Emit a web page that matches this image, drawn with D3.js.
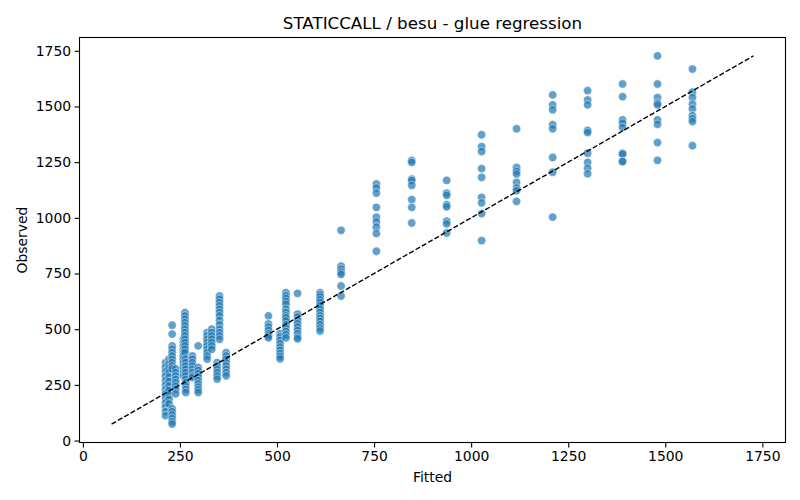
<!DOCTYPE html>
<html>
<head>
<meta charset="utf-8">
<script src="https://cdn.jsdelivr.net/npm/d3@7"></script>
<style>
  body { margin: 0; background: #fff; }
  svg { font-family: "DejaVu Sans", sans-serif; }
</style>
</head>
<body>
<svg id="chart" width="800" height="500"></svg>
<script>
// fitted value of each column of points
const fittedLevels = [213, 222, 230, 239, 259, 263, 265, 282, 297, 320, 332, 346, 352, 369,
    478, 508, 523, 553, 611, 665, 756, 847, 937, 1027, 1117, 1210, 1300, 1390, 1480, 1570];

// observed values, one list per fitted level (same order)
const observedSets = [
    [350, 330, 310, 290, 270, 250, 230, 210, 190, 170, 150, 130, 112],
    [366, 345, 325, 305, 285, 265, 245, 225, 205, 185, 165],
    [518, 478, 425, 410, 395, 380, 365, 350, 335, 322, 143, 130, 115, 100, 85, 74],
    [322, 305, 290, 275, 260, 245, 230, 210],
    [456, 440, 425, 410, 395, 380, 365, 350, 335, 320, 305, 291],
    [574, 560, 545, 530, 515, 500, 485, 470, 455, 440, 425, 410, 395],
    [367, 350, 335, 320, 305, 290, 275, 260, 245, 230, 216],
    [380, 365, 350, 335, 320, 305, 290, 283],
    [425, 328, 315, 300, 285, 270, 255, 240, 228, 216],
    [485, 470, 455, 440, 425, 410, 395, 380, 366],
    [500, 485, 470, 455, 440, 425, 410],
    [350, 335, 320, 305, 290, 276],
    [649, 635, 620, 605, 590, 575, 560, 540, 520, 500, 485, 470, 455],
    [395, 380, 365, 350, 335, 320, 305, 291],
    [560, 524, 510, 495, 480, 470, 461],
    [480, 465, 450, 435, 420, 405, 390, 378, 367],
    [664, 650, 638, 625, 612, 590, 575, 560, 551, 537, 520, 505, 490, 475, 461],
    [661, 568, 555, 540, 525, 510, 495, 480, 465, 457],
    [664, 655, 645, 632, 620, 605, 590, 575, 560, 548, 535, 520, 505, 492],
    [944, 783, 770, 756, 746, 694, 649],
    [1152, 1134, 1111, 1047, 1003, 982, 958, 930, 850],
    [1258, 1249, 1174, 1167, 1146, 1082, 1047, 977],
    [1168, 1111, 1101, 1059, 1049, 985, 973, 932],
    [1373, 1320, 1298, 1221, 1182, 1092, 1067, 1019, 898],
    [1400, 1226, 1209, 1197, 1159, 1134, 1122, 1074],
    [1552, 1507, 1485, 1418, 1400, 1271, 1205, 1003],
    [1571, 1529, 1507, 1392, 1383, 1290, 1249, 1223, 1198],
    [1601, 1544, 1440, 1425, 1406, 1290, 1286, 1253, 1253],
    [1727, 1601, 1540, 1515, 1507, 1440, 1420, 1338, 1258],
    [1668, 1564, 1540, 1510, 1489, 1459, 1445, 1432, 1324]
];

const xTicks = [0, 250, 500, 750, 1000, 1250, 1500, 1750];
const yTicks = [0, 250, 500, 750, 1000, 1250, 1500, 1750];

const titleText = "STATICCALL / besu - glue regression";

function chart(element) {
    const svg = d3.select(element);
    const left = 79.5, right = 785.5, top = 37.5, bottom = 442.5;

    // flatten the columns into points
    let points = [];
    fittedLevels.forEach(function(f, i) {
        observedSets[i].forEach(function(o) {
            points.push({ fitted: f, observed: o });
        });
    });

    // the y = x reference line goes from the smallest to the largest value
    const lo = d3.min([d3.min(fittedLevels), d3.min(points, d => d.observed)]);
    const hi = d3.max([d3.max(fittedLevels), d3.max(points, d => d.observed)]);
    const pad = (hi - lo) * 0.05;

    const x = d3.scaleLinear().domain([lo - pad, hi + pad]).range([left, right]);
    const y = d3.scaleLinear().domain([lo - pad, hi + pad]).range([bottom, top]);

    // axes
    const xAxis = svg.append('g')
        .attr('transform', `translate(0,${bottom})`)
        .call(d3.axisBottom(x).tickValues(xTicks).tickFormat(d3.format('d')).tickSize(4.9).tickPadding(3.5));
    const yAxis = svg.append('g')
        .attr('transform', `translate(${left},0)`)
        .call(d3.axisLeft(y).tickValues(yTicks).tickFormat(d3.format('d')).tickSize(4.9).tickPadding(3.5));

    [xAxis, yAxis].forEach(function(a) {
        a.select('.domain').remove();
        a.selectAll('line').attr('stroke', '#000').attr('stroke-width', 1.1);
        a.selectAll('text')
            .attr('fill', '#000')
            .style('font-family', '"DejaVu Sans", sans-serif')
            .style('font-size', '13.9px');
    });

    // scatter
    svg.append('g')
        .selectAll('circle')
        .data(points)
        .join('circle')
        .attr('cx', d => x(d.fitted))
        .attr('cy', d => y(d.observed))
        .attr('r', 4.17)
        .attr('fill', '#1f77b4')
        .attr('fill-opacity', 0.7)
        .attr('stroke', '#fff')
        .attr('stroke-opacity', 0.7)
        .attr('stroke-width', 0.67);

    // dashed y = x line
    svg.append('line')
        .attr('x1', x(lo)).attr('y1', y(lo))
        .attr('x2', x(hi)).attr('y2', y(hi))
        .attr('stroke', '#000')
        .attr('stroke-width', 1.39)
        .attr('stroke-dasharray', '5.1,2.2');

    // frame
    svg.append('rect')
        .attr('x', left).attr('y', top)
        .attr('width', right - left).attr('height', bottom - top)
        .attr('fill', 'none')
        .attr('stroke', '#000')
        .attr('stroke-width', 1.1);

    // texts
    svg.append('text')
        .attr('x', (left + right) / 2).attr('y', 29)
        .attr('text-anchor', 'middle')
        .style('font-size', '16.7px')
        .text(titleText);

    svg.append('text')
        .attr('x', (left + right) / 2).attr('y', 482)
        .attr('text-anchor', 'middle')
        .style('font-size', '13.9px')
        .text('Fitted');

    svg.append('text')
        .attr('transform', `translate(27,${(top + bottom) / 2}) rotate(-90)`)
        .attr('text-anchor', 'middle')
        .style('font-size', '13.9px')
        .text('Observed');
}

chart(document.getElementById('chart'));
</script>
</body>
</html>
